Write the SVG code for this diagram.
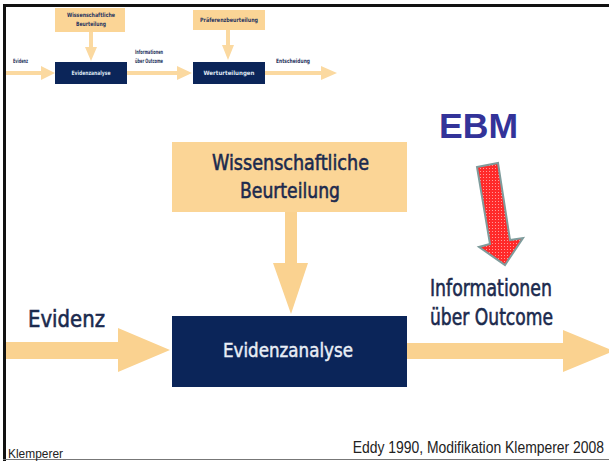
<svg xmlns="http://www.w3.org/2000/svg" width="609" height="461" viewBox="0 0 609 461">
<style>
.lbl{font-family:"DejaVu Sans Condensed","DejaVu Sans",sans-serif;fill:#1b2a4e;stroke:#1b2a4e;stroke-width:0.55}
.wt{font-family:"DejaVu Sans Condensed","DejaVu Sans",sans-serif;fill:#e9eef6;stroke:#e9eef6;stroke-width:0.45}
.sm{font-family:"DejaVu Sans Condensed","DejaVu Sans",sans-serif;font-size:6px;font-weight:bold}
.orange{fill:#fbd596}
.navy{fill:#0b2559}
.arr{fill:#fad290}
.arrs{fill:#fbd9a0}
</style>
<defs>
<pattern id="grid" width="3" height="3" patternUnits="userSpaceOnUse">
<rect width="3" height="3" fill="#ff2a2a"/>
<rect width="1" height="1" fill="#ff9a9a"/>
</pattern>
</defs>
<rect width="609" height="461" fill="#ffffff"/>
<!-- frame -->
<rect x="3" y="4" width="606" height="3" fill="#111"/>
<rect x="3" y="4" width="3" height="457" fill="#111"/>
<rect x="3" y="459" width="606" height="1" fill="#777"/>

<g id="connectors">
<!-- small diagram -->
<polygon class="arrs" points="6,71 41,71 41,66 55,73 41,80 41,75 6,75"/>
<polygon class="arrs" points="89,32 93,32 93,47 97,47 91,61 85,47 89,47"/>
<polygon class="arrs" points="127,71 177,71 177,66 192,73 177,80 177,75 127,75"/>
<polygon class="arrs" points="226,30 230,30 230,45 234,45 228,60 222,45 226,45"/>
<polygon class="arrs" points="265,71 321,71 321,66 337,73 321,80 321,75 265,75"/>
<!-- main diagram -->
<polygon class="arr" points="6,342 118,342 118,328 170,350 118,372 118,359 6,359"/>
<polygon class="arr" points="285,212 297,212 297,263 308,263 291,314 273,263 285,263"/>
<polygon class="arr" points="407,343 563,343 563,330 614,351 563,372 563,359 407,359"/>
<!-- EBM red arrow -->
<polygon points="477,167 498,163 510,240 523,238 505,265 479,247 490,244" fill="url(#grid)" stroke="#7f9c9c" stroke-width="2" stroke-linejoin="miter"/>
</g>

<!-- small top diagram nodes -->
<g id="s-wiss">
<rect class="orange" x="55" y="8" width="70" height="24"/>
<text class="sm" x="91" y="17" text-anchor="middle" fill="#2a3560" textLength="48" lengthAdjust="spacingAndGlyphs">Wissenschaftliche</text>
<text class="sm" x="91" y="26" text-anchor="middle" fill="#2a3560" textLength="30" lengthAdjust="spacingAndGlyphs">Beurteilung</text>
</g>
<g id="s-evid">
<rect class="navy" x="55" y="62" width="72" height="22"/>
<text class="sm" x="91" y="75" text-anchor="middle" fill="#dfe6f0" textLength="39" lengthAdjust="spacingAndGlyphs">Evidenzanalyse</text>
</g>
<g id="s-praef">
<rect class="orange" x="193" y="10" width="72" height="20"/>
<text class="sm" x="229" y="22" text-anchor="middle" fill="#2a3560" textLength="58" lengthAdjust="spacingAndGlyphs">Präferenzbeurteilung</text>
</g>
<g id="s-wert">
<rect class="navy" x="193" y="62" width="72" height="22"/>
<text class="sm" x="229" y="75" text-anchor="middle" fill="#dfe6f0" textLength="51" lengthAdjust="spacingAndGlyphs">Werturteilungen</text>
</g>
<g id="s-labels">
<text class="sm" x="13" y="63" fill="#2a3560" textLength="15" lengthAdjust="spacingAndGlyphs">Evidenz</text>
<text class="sm" x="135" y="54" fill="#2a3560" textLength="28" lengthAdjust="spacingAndGlyphs">Informationen</text>
<text class="sm" x="135" y="63" fill="#2a3560" textLength="28" lengthAdjust="spacingAndGlyphs">über Outcome</text>
<text class="sm" x="276" y="63" fill="#2a3560" textLength="34" lengthAdjust="spacingAndGlyphs">Entscheidung</text>
</g>

<!-- main diagram nodes -->
<g id="wiss">
<rect class="orange" x="172" y="142" width="235" height="70"/>
<text class="lbl" x="212" y="170" font-size="21" textLength="157" lengthAdjust="spacingAndGlyphs">Wissenschaftliche</text>
<text class="lbl" x="240" y="198" font-size="21" textLength="100" lengthAdjust="spacingAndGlyphs">Beurteilung</text>
</g>
<g id="evid">
<rect class="navy" x="172" y="316" width="235" height="71"/>
<text class="wt" x="223" y="357" font-size="20" textLength="130" lengthAdjust="spacingAndGlyphs">Evidenzanalyse</text>
</g>
<g id="labels">
<text class="lbl" x="28" y="327" font-size="23" textLength="77" lengthAdjust="spacingAndGlyphs">Evidenz</text>
<text class="lbl" x="430" y="296" font-size="23" textLength="122" lengthAdjust="spacingAndGlyphs">Informationen</text>
<text class="lbl" x="430" y="325" font-size="23" textLength="123" lengthAdjust="spacingAndGlyphs">über Outcome</text>
<text x="439" y="138" font-family="Liberation Sans, Arial, sans-serif" font-weight="bold" font-size="35" fill="#333399" textLength="79" lengthAdjust="spacingAndGlyphs">EBM</text>
<text transform="translate(604,453) scale(0.87,1)" x="0" y="0" text-anchor="end" font-family="Liberation Sans, Arial, sans-serif" font-size="16" fill="#222">Eddy 1990, Modifikation Klemperer 2008</text>
<text x="8" y="458" font-family="Liberation Sans, Arial, sans-serif" font-size="12" fill="#222" textLength="55" lengthAdjust="spacingAndGlyphs">Klemperer</text>
</g>
</svg>
